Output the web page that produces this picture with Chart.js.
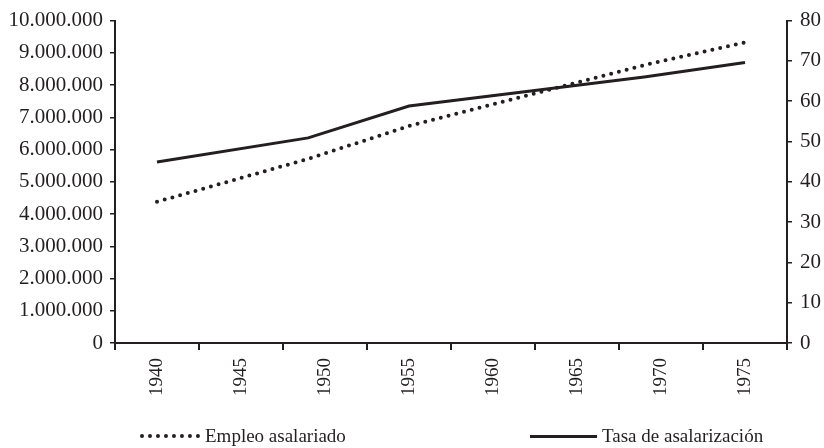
<!DOCTYPE html>
<html><head><meta charset="utf-8">
<script src="https://cdn.jsdelivr.net/npm/chart.js@4/dist/chart.umd.min.js"></script>
<style>
html,body{margin:0;padding:0;background:#fff;}
#wrap{position:relative;width:824px;height:448px;overflow:hidden;}
#c{position:absolute;left:0;top:0;}
.leg{position:absolute;font-family:"Liberation Serif",serif;font-size:19px;color:#231f20;line-height:20px;white-space:nowrap;}
.dots{position:absolute;height:0;border-top:4px dotted #231f20;}
.solid{position:absolute;height:3px;background:#231f20;}
</style></head>
<body>
<div id="wrap">
<canvas id="c" width="824" height="448"></canvas>
<div class="dots" style="left:140px;top:434px;width:60px"></div>
<div class="leg" style="left:205px;top:426px">Empleo asalariado</div>
<div class="solid" style="left:530px;top:435px;width:67px"></div>
<div class="leg" style="left:602px;top:426px">Tasa de asalarización</div>
</div>
<script>
// Data
const years = [1940, 1949, 1955, 1969, 1975];
const empleoAsalariado = [4380000, 5710000, 6730000, 8620000, 9320000];
const tasaAsalarizacion = [44.9, 50.9, 58.8, 66.0, 69.6];
const tickLabels = ['1940', '1945', '1950', '1955', '1960', '1965', '1970', '1975'];
const leftTicks = [0, 1000000, 2000000, 3000000, 4000000, 5000000, 6000000, 7000000, 8000000, 9000000, 10000000];
const rightTicks = [0, 10, 20, 30, 40, 50, 60, 70, 80];

const INK = '#231f20';
const SERIF = '"Liberation Serif", "Times New Roman", serif';
const FONT_Y = {family: SERIF, size: 21};
const FONT_X = {family: SERIF, size: 19};

const fmt = v => Math.round(v).toString().replace(/\B(?=(\d{3})+(?!\d))/g, '.');

new Chart(document.getElementById('c'), {
  type: 'line',
  data: {
    datasets: [
      {
        label: 'Empleo asalariado',
        data: years.map((y, i) => ({x: y, y: empleoAsalariado[i]})),
        xAxisID: 'xd', yAxisID: 'y',
        borderColor: INK, borderWidth: 4,
        borderDash: [0, 8], borderCapStyle: 'round',
        pointRadius: 0, fill: false, tension: 0
      },
      {
        label: 'Tasa de asalarización',
        data: years.map((y, i) => ({x: y, y: tasaAsalarizacion[i]})),
        xAxisID: 'xd', yAxisID: 'y1',
        borderColor: INK, borderWidth: 3,
        pointRadius: 0, fill: false, tension: 0
      }
    ]
  },
  options: {
    responsive: false,
    animation: false,
    devicePixelRatio: 1,
    layout: {padding: {top: 19, bottom: 0, left: 0, right: 0}},
    plugins: {legend: {display: false}, tooltip: {enabled: false}},
    scales: {
      x: {
        type: 'category',
        labels: tickLabels,
        position: 'bottom',
        offset: true,
        grid: {offset: true, drawOnChartArea: false, drawTicks: true, tickLength: 7, color: INK, lineWidth: 2},
        border: {display: true, color: INK, width: 2},
        ticks: {color: INK, font: FONT_X, minRotation: 90, maxRotation: 90, padding: 8, autoSkip: false},
        afterFit: s => { s.height = 105; }
      },
      xd: {
        type: 'linear',
        display: false,
        position: 'bottom',
        min: 1937.5, max: 1977.5
      },
      y: {
        type: 'linear',
        position: 'left',
        min: 0, max: 10000000,
        afterBuildTicks: s => { s.ticks = leftTicks.map(v => ({value: v})); },
        grid: {drawOnChartArea: false, drawTicks: true, tickLength: 5, color: INK, lineWidth: 1.5},
        border: {display: true, color: INK, width: 2},
        ticks: {color: INK, font: FONT_Y, padding: 7, callback: v => fmt(v)},
        afterFit: s => { s.width = 115; }
      },
      y1: {
        type: 'linear',
        position: 'right',
        min: 0, max: 80,
        afterBuildTicks: s => { s.ticks = rightTicks.map(v => ({value: v})); },
        grid: {drawOnChartArea: false, drawTicks: true, tickLength: 5, color: INK, lineWidth: 1.5},
        border: {display: true, color: INK, width: 2},
        ticks: {color: INK, font: FONT_Y, padding: 8, callback: v => String(v)},
        afterFit: s => { s.width = 37; }
      }
    }
  }
});
</script>
</body></html>
